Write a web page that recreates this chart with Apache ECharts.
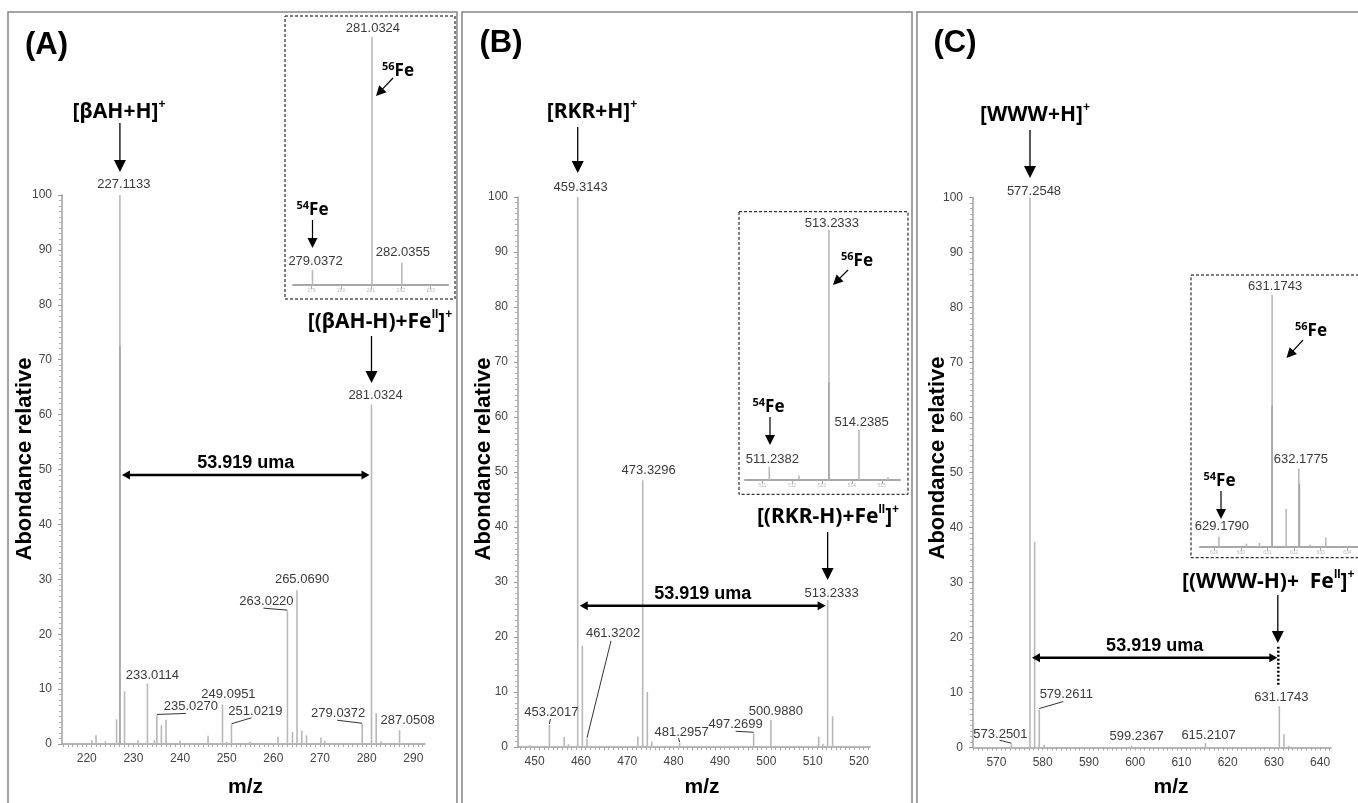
<!DOCTYPE html>
<html><head><meta charset="utf-8">
<script src="https://cdn.jsdelivr.net/npm/echarts@6/dist/echarts.min.js"></script>
<style>html,body{margin:0;padding:0;background:#fff}#c{width:1358px;height:803px}</style>
</head><body><div id="c"></div>
<script>
// ---------------- DATA ----------------
// main spectra: [m/z, relative abundance %]
const peaksA = [[221.1,0.7],[222.0,1.6],[224.0,0.5],[226.4,4.5],[227.1133,100],[228.1,9.6],[231.0,0.7],[233.0114,11],[234.5,0.7],[235.0270,5.2],[236.0,3.4],[237.0,4.4],[240.0,0.6],[246.0,1.5],[249.0951,7.2],[250.0,0.4],[251.0219,3.5],[255.0,0.4],[261.0,1.3],[263.0220,24.2],[264.1,2.2],[265.0690,28],[266.1,2.4],[267.1,1.6],[270.2,1.2],[271.0,0.6],[279.0372,3.6],[281.0324,61.8],[282.0355,5.6],[283.1,0.5],[287.0508,2.5]];
const peaksA_dark = [[227.1133,72.5]];
const peaksB = [[449.0,0.3],[453.2017,4],[456.4,1.8],[457.3,0.5],[459.3143,100],[460.32,18.4],[461.3202,1.5],[472.3,1.9],[473.3296,48.5],[474.33,10],[475.3,1],[481.2957,0.7],[497.2699,2.5],[500.9880,4.9],[511.3,1.9],[512.2,0.6],[513.2333,26.7],[514.3,5.6]];
const peaksC = [[573.2501,0.6],[577.2548,100],[578.26,37.4],[579.2611,6.9],[580.3,0.5],[599.2367,0.3],[615.2107,0.8],[631.1743,7.5],[632.18,2.4],[633.2,0.3]];
// insets (isotopic patterns)
const insetA = [[279.0372,6],[281.0324,100],[282.0355,9]];
const insetB = [[511.2382,5.3],[512.23,1.8],[513.2333,100],[514.2385,20],[515.21,1]];
const insetB_dark = [[513.2333,39]];
const insetC = [[629.1790,4],[630.21,1.2],[630.7,1.5],[631.1743,100],[631.7,15],[632.1775,31],[632.6,0.8],[633.19,3.6]];
const insetC_dark = [[631.1743,56],[632.2,25]];
// peak labels
const labelsA = ['227.1133','233.0114','235.0270','249.0951','251.0219','263.0220','265.0690','279.0372','281.0324','287.0508'];
const labelsB = ['459.3143','453.2017','461.3202','473.3296','481.2957','497.2699','500.9880','513.2333'];
const labelsC = ['577.2548','573.2501','579.2611','599.2367','615.2107','631.1743'];
const insetLabelsA = ['279.0372','281.0324','282.0355'];
const insetLabelsB = ['511.2382','513.2333','514.2385'];
const insetLabelsC = ['629.1790','631.1743','632.1775'];
// tick labels
const yTicks = [0,10,20,30,40,50,60,70,80,90,100];
const xTicksA = [220,230,240,250,260,270,280,290];
const xTicksB = [450,460,470,480,490,500,510,520];
const xTicksC = [570,580,590,600,610,620,630,640];
const insetTicksA = [279,280,281,282,283];
const insetTicksB = [511,512,513,514,515];
const insetTicksC = [629,630,631,632,633,634];
// texts
const panelTitles = ['(A)','(B)','(C)'];
const yTitle = 'Abondance relative';
const xTitle = 'm/z';
const shiftText = '53.919 uma';
const shiftA = [227.1133, 281.0324, 49];
const shiftB = [459.3143, 513.2333, 25.7];
const shiftC = [577.2548, 631.1743, 16.3];

// ---------------- LAYOUT (positions / styles only) ----------------
const labelLayoutA = [[4,-11],[5,-8],[34,-9,29,-2],[6,-10],[24,-13,20,-7],[-21,-10,-24,-3],[5,-11],[-24,-11,-25,-4],[4,-9],[8,-10]];
const labelLayoutB = [[3,-10],[2,-13,1,-6],[26,-105,24,-98],[6,-10],[2,-11,-1,-5],[-18,-9,-18,-2],[5,-9],[4,-7]];
const labelLayoutC = [[4,-6],[-11,-10,-12,-4],[27,-15,24,-8],[5,-9],[3,-8],[2,-9]];
const insetLayoutA = [[3,-9],[1,-9],[1,-10]];
const insetLayoutB = [[3,-7],[3,-7],[2.5,-7.5]];
const insetLayoutC = [[3,-10],[3,-9],[2,-9]];

const NUMFONT = '"Liberation Sans", Arial, sans-serif';
const ION_FONT = '"Noto Sans", "Open Sans", sans-serif';
const PEAK = '#b8b8b8', PEAK_DARK = '#a6a6a6';

function intTicks(min, max){ const t=[]; for(let v=Math.ceil(min); v<=max; v++) t.push(v); return t; }

function mainX(g, min, max, labels){
  return {type:'value', gridIndex:g, min, max, splitLine:{show:false},
    axisLine:{onZero:false, lineStyle:{color:'#a0a0a0', width:1.5}},
    axisTick:{customValues:intTicks(min,max), length:3, lineStyle:{color:'#aaa'}},
    axisLabel:{customValues:labels, fontSize:12, color:'#444', margin:9, fontFamily:NUMFONT}};
}
function mainY(g){
  return {type:'value', gridIndex:g, min:0, max:100, interval:10, splitLine:{show:false},
    axisLine:{show:true, lineStyle:{color:'#a0a0a0', width:1.5}},
    axisTick:{show:true, length:4, lineStyle:{color:'#999'}},
    minorTick:{show:true, splitNumber:10, length:3, lineStyle:{color:'#b0b0b0'}},
    axisLabel:{customValues:yTicks, fontSize:12, color:'#444', margin:10, fontFamily:NUMFONT}};
}
function insetX(g, min, max, ticks){
  return {type:'value', gridIndex:g, min, max, splitLine:{show:false},
    axisLine:{onZero:false, lineStyle:{color:'#a8a8a8', width:2}},
    axisTick:{customValues:ticks, length:4, lineStyle:{color:'#aaa'}},
    axisLabel:{customValues:ticks, fontSize:5, color:'#bbb', margin:3, fontFamily:NUMFONT}};
}
function insetY(g){ return {type:'value', gridIndex:g, min:0, max:100, show:false}; }

function peakSeries(g, data, color, width){
  return {type:'custom', xAxisIndex:g, yAxisIndex:g, data, clip:false, silent:true, z:2,
    encode:{x:0, y:1},
    renderItem:(params, api)=>{
      const x=api.value(0), h=api.value(1);
      const a=api.coord([x,0]), b=api.coord([x,h]);
      return {type:'line', shape:{x1:a[0],y1:a[1],x2:b[0],y2:b[1]}, style:{stroke:color, lineWidth:width}};
    }};
}
function labelSeries(g, texts, peaks, layout){
  const data = texts.map(t=>{ const m=parseFloat(t); let best=peaks[0];
    peaks.forEach(p=>{ if(Math.abs(p[0]-m)<Math.abs(best[0]-m)) best=p; }); return [best[0], best[1]]; });
  return {type:'custom', xAxisIndex:g, yAxisIndex:g, data, clip:false, silent:true, z:5,
    encode:{x:0, y:1},
    renderItem:(params, api)=>{
      const p = api.coord([api.value(0), api.value(1)]);
      const L = layout[params.dataIndex];
      const ch = [{type:'text', x:p[0]+L[0], y:p[1]+L[1],
        style:{text:texts[params.dataIndex], fill:'#3a3a3a', fontSize:13, fontFamily:NUMFONT, align:'center', verticalAlign:'middle'}}];
      if(L.length>2) ch.push({type:'line', shape:{x1:p[0], y1:p[1]-1, x2:p[0]+L[2], y2:p[1]+L[3]}, style:{stroke:'#333', lineWidth:1}});
      return {type:'group', children:ch};
    }};
}

const option = {
  animation:false,
  backgroundColor:'#fff',
  grid:[
    {left:62, top:195, width:363, height:549},
    {left:518, top:197, width:352, height:550},
    {left:973, top:197.5, width:358, height:550},
    {left:293, top:37, width:155, height:248},
    {left:745, top:230, width:155, height:250},
    {left:1200, top:295, width:181, height:251.7}
  ],
  xAxis:[
    mainX(0, 214.7, 292.5, xTicksA),
    mainX(1, 446.43, 522.37, xTicksB),
    mainX(2, 564.93, 642.35, xTicksC),
    insetX(3, 278.383, 283.584, insetTicksA),
    insetX(4, 510.425, 515.61, insetTicksB),
    insetX(5, 628.467, 634.40, insetTicksC)
  ],
  yAxis:[mainY(0), mainY(1), mainY(2), insetY(3), insetY(4), insetY(5)],
  series:[
    peakSeries(0, peaksA, PEAK, 1.6), peakSeries(0, peaksA_dark, PEAK_DARK, 1.6),
    peakSeries(1, peaksB, PEAK, 1.6),
    peakSeries(2, peaksC, PEAK, 1.6),
    peakSeries(3, insetA, PEAK, 1.6),
    peakSeries(4, insetB, PEAK, 1.6), peakSeries(4, insetB_dark, PEAK_DARK, 1.6),
    peakSeries(5, insetC, PEAK, 1.6), peakSeries(5, insetC_dark, PEAK_DARK, 1.6),
    labelSeries(0, labelsA, peaksA, labelLayoutA),
    labelSeries(1, labelsB, peaksB, labelLayoutB),
    labelSeries(2, labelsC, peaksC, labelLayoutC),
    labelSeries(3, insetLabelsA, insetA, insetLayoutA),
    labelSeries(4, insetLabelsB, insetB, insetLayoutB),
    labelSeries(5, insetLabelsC, insetC, insetLayoutC)
  ]
};

const chart = echarts.init(document.getElementById('c'));
chart.setOption(option);

// ---------------- ANNOTATIONS ----------------
const G = [];
const P = (g, x, y) => chart.convertToPixel({gridIndex:g}, [x, y]);
function seg(x1,y1,x2,y2,w,dash){ G.push({type:'line', silent:true, z:100, shape:{x1,y1,x2,y2}, style:{stroke:'#000', lineWidth:w||1.3, lineDash:dash||null}}); }
function tri(pts){ G.push({type:'polygon', silent:true, z:100, shape:{points:pts}, style:{fill:'#000'}}); }
function head(x1,y1,x2,y2,hl,hw){ const dx=x2-x1, dy=y2-y1, L=Math.hypot(dx,dy), ux=dx/L, uy=dy/L;
  const bx=x2-ux*hl, by=y2-uy*hl; tri([[x2,y2],[bx-uy*hw,by+ux*hw],[bx+uy*hw,by-ux*hw]]); return [bx+ux, by+uy]; }
function arrow(x1,y1,x2,y2,hl,hw,w){ const b=head(x1,y1,x2,y2,hl,hw); seg(x1,y1,b[0],b[1],w); }
function dblArrow(x1,x2,y){ head(x2,y,x1,y,8,4.5); head(x1,y,x2,y,8,4.5); seg(x1+6,y,x2-6,y,2.5); }
function txt(x,y,text,st,rot){ const e={type:'text', silent:true, z:100, x, y, style:Object.assign({text, fill:'#000', align:'center', verticalAlign:'middle'}, st)}; if(rot) e.rotation=rot; G.push(e); }
const supRich = {sup:{fontSize:12, fontWeight:'bold', fontFamily:NUMFONT, verticalAlign:'top', lineHeight:13, fill:'#000'}};
function ion(x,y,text,align){ txt(x,y,text,{fontSize:21, fontWeight:'bold', fontFamily:ION_FONT, lineHeight:26, align:align||'center', rich:supRich}); }
const isoRich = {sup:{fontSize:11, fontWeight:'bold', fontFamily:ION_FONT, verticalAlign:'top', lineHeight:11, fill:'#000'}};
function iso(x,y,num){ txt(x,y,'{sup|'+num+'}Fe',{fontSize:17, fontWeight:'bold', fontFamily:ION_FONT, lineHeight:20, align:'left', rich:isoRich}); }

// panel frames
[[8,457],[462,912],[917,1372]].forEach(f=>G.push({type:'rect', silent:true, z:90, shape:{x:f[0], y:12, width:f[1]-f[0], height:820}, style:{fill:'none', stroke:'#858585', lineWidth:1.5}}));
// inset dashed frames
[[285,16,170,283],[739,211.7,169,282.6],[1191,275,190,282.7]].forEach(r=>G.push({type:'rect', silent:true, z:90, shape:{x:r[0], y:r[1], width:r[2], height:r[3]}, style:{fill:'none', stroke:'#000', lineWidth:1, lineDash:[3,2]}}));

// panel letters and axis titles
[[46.5,45],[501,43.5],[955,43.5]].forEach((p,i)=>txt(p[0],p[1],panelTitles[i],{fontSize:31, fontWeight:'bold', fontFamily:NUMFONT}));
[[24.5,459],[483.5,459],[937.5,458]].forEach(p=>txt(p[0],p[1],yTitle,{fontSize:22, fontWeight:'bold', fontFamily:NUMFONT}, Math.PI/2));
[[245.5,787],[702,787],[1171,787]].forEach(p=>txt(p[0],p[1],xTitle,{fontSize:21, fontWeight:'bold', fontFamily:NUMFONT}));

// ion labels with arrows
const ionDefs = [
  {g:0, mz:227.1133, text:'[βAH+H]{sup|+}', tx:119, ty:112, y1:123, y2:172},
  {g:0, mz:281.0324, text:'[(βAH-H)+Fe{sup|II}]{sup|+}', tx:380, ty:322, y1:336, y2:383},
  {g:1, mz:459.3143, text:'[RKR+H]{sup|+}', tx:592, ty:112, y1:127, y2:173},
  {g:1, mz:513.2333, text:'[(RKR-H)+Fe{sup|II}]{sup|+}', tx:828, ty:517, y1:532, y2:580},
  {g:2, mz:577.2548, text:'[WWW+H]{sup|+}', tx:1035, ty:115, y1:130, y2:178},
  {g:2, mz:631.1743, text:'[(WWW-H)+  Fe{sup|II}]{sup|+}', tx:1182, ty:582, y1:595, y2:643, left:true}
];
ionDefs.forEach(d=>{
  const x = P(d.g, d.mz, 0)[0] - (d.g===2 && d.left ? 1.5 : 0);
  ion(d.tx, d.ty, d.text, d.left ? 'left' : 'center');
  arrow(x, d.y1, x, d.y2, 12, 6, 1.3);
});

// mass-shift double arrows
[[0,shiftA],[1,shiftB],[2,shiftC]].forEach(([g,s])=>{
  const a = P(g, s[0], s[2]), b = P(g, s[1], s[2]);
  const x1 = a[0]+2, x2 = b[0]-2, y = a[1];
  dblArrow(x1, x2, y);
  txt((x1+x2)/2, y-12, shiftText, {fontSize:18, fontWeight:'bold', fontFamily:NUMFONT});
  if(g===2){ seg(x2+1, P(g, s[1], 18.3)[1], x2+1, P(g, s[1], 11.4)[1], 2.5, [2,2]); }
});

// isotope annotations in insets
const isoDefs = [
  {num:'56', tx:382, ty:71.5, a:[393,78,376,96]},
  {num:'54', tx:296.5, ty:210, a:[312.5,220,312.5,248]},
  {num:'56', tx:841, ty:261.5, a:[848,270,833,285]},
  {num:'54', tx:752.5, ty:407, a:[770,417,770,445]},
  {num:'56', tx:1295, ty:331.5, a:[1303,340,1286.5,358]},
  {num:'54', tx:1203.5, ty:481, a:[1221,491,1221,519]}
];
isoDefs.forEach(d=>{ iso(d.tx, d.ty, d.num); arrow(d.a[0],d.a[1],d.a[2],d.a[3],10,5,1.2); });

chart.setOption({graphic:G});
</script></body></html>
